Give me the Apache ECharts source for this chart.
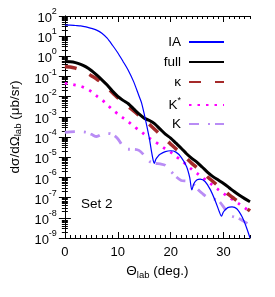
<!DOCTYPE html>
<html><head><meta charset="utf-8">
<script src="https://cdn.jsdelivr.net/npm/echarts@6/dist/echarts.min.js"></script>
<style>html,body{margin:0;padding:0;background:#fff}#c{width:275px;height:297px}</style>
</head><body><div id="c"></div>
<script>
// ---- data ----
const angles = [0,1,2,3,4,5,6,7,8,9,10,11,12,13,14,15,16,17,18,19,20,21,22,23,24,25,26,27,28,29,30,31,32,33,34,35];
const fullValues = [0.55,0.54,0.49,0.40,0.30,0.20,0.12,0.069,0.038,0.019,0.0105,0.0066,0.0045,0.0025,0.0014,8.7e-4,6.6e-4,4.5e-4,2.5e-4,1.4e-4,8.9e-5,5.0e-5,2.8e-5,1.5e-5,8.9e-6,5.6e-6,3.2e-6,1.8e-6,1.1e-6,7.4e-7,5.0e-7,3.2e-7,2.0e-7,1.3e-7,8.9e-8,6.3e-8];
const kappaValues = [0.31,0.30,0.26,0.21,0.16,0.11,0.076,0.048,0.028,0.016,0.0089,0.0052,0.0032,0.0020,0.0012,7.1e-4,4.2e-4,2.4e-4,1.35e-4,7.9e-5,4.5e-5,2.6e-5,1.6e-5,8.9e-6,5.0e-6,3.0e-6,1.8e-6,1.05e-6,6.3e-7,3.8e-7,2.4e-7,1.4e-7,8.9e-8,5.6e-8,3.5e-8,2.2e-8];
const kStarValues = [0.046,0.043,0.038,0.033,0.026,0.018,0.011,0.0071,0.0040,0.0023,0.0014,8.9e-4,5.8e-4,3.5e-4,2.2e-4,1.4e-4,8.9e-5,6.0e-5,4.0e-5,2.6e-5,1.8e-5,1.1e-5,7.1e-6,4.2e-6,2.5e-6,1.6e-6,1.0e-6,6.3e-7,4.0e-7,2.5e-7,1.6e-7,1.05e-7,7.1e-8,4.8e-8,3.2e-8,2.0e-8];
const kValues = [1.74e-4,1.82e-4,1.86e-4,1.86e-4,1.74e-4,1.38e-4,1.07e-4,1.38e-4,1.55e-4,1.35e-4,8.3e-5,3.5e-5,2.5e-5,2.5e-5,2.2e-5,1.26e-5,6.3e-6,5.0e-6,4.7e-6,4.0e-6,2.1e-6,1.1e-6,7.1e-7,6.6e-7,5.6e-7,2.8e-7,1.6e-7,1.0e-7,8.7e-8,7.1e-8,3.5e-8,1.4e-8,1.1e-8,8.9e-9,6.3e-9,4.5e-9];
const iaAngles = [0,1,2,3,4,5,6,7,8,9,10,11,12,13,14,14.5,15,15.5,16,16.4,16.7,16.9,17.2,17.6,18,19,20,21,22,23,23.6,24,24.4,25,25.6,26.5,27.5,28.5,29.2,29.6,30,30.8,31.6,32.5,33.5,34.3,35];
const iaValues = [35.5,35.5,33.9,32.4,28.8,24.5,20.0,14.1,7.94,3.55,1.51,0.56,0.20,0.056,0.0112,0.0050,0.0014,3.5e-4,7.9e-5,1.8e-5,7.1e-6,5.0e-6,7.9e-6,1.12e-5,1.4e-5,1.9e-5,2.1e-5,1.8e-5,1.0e-5,3.5e-6,1.0e-6,2.4e-7,5.0e-7,7.6e-7,8.3e-7,6.3e-7,2.5e-7,6.3e-8,2.0e-8,1.2e-8,2.0e-8,3.2e-8,3.5e-8,2.8e-8,1.12e-8,3.5e-9,1.0e-9];
const seriesNames = ['IA','full','κ','K*','K'];
const xTickValues = [0,10,20,30];
const xMinorTickValues = angles;
const yTickValues = [1e-9,1e-8,1e-7,1e-6,1e-5,1e-4,1e-3,1e-2,1e-1,1e0,1e1,1e2];

// ---- helpers ----
const FONT = 'Liberation Sans';
const yMinorTickValues = [];
for (let d = -9; d < 2; d++) for (let m = 2; m <= 9; m++) yMinorTickValues.push(+(m * Math.pow(10, d)).toPrecision(3));
const pairs = (xs, ys) => xs.map((x, i) => [x, ys[i]]);

const chart = echarts.init(document.getElementById('c'), null, {renderer: 'canvas'});

const axisLineStyle = {show: true, lineStyle: {color: '#000', width: 1}};
function xAxisDef(pos, major, withLabel) {
  return {
    type: 'value', gridIndex: 0, position: pos, min: 0, max: 35,
    axisLine: major ? axisLineStyle : {show: false},
    axisTick: {show: true, inside: true, length: major ? 6 : 3, lineStyle: {color: '#000', width: 1},
               customValues: major ? xTickValues : xMinorTickValues},
    axisLabel: withLabel ? {show: true, customValues: xTickValues, margin: 8, color: '#000', fontSize: 13, fontFamily: FONT}
                         : {show: false},
    splitLine: {show: false}
  };
}
function yAxisDef(pos, major, withLabel) {
  return {
    type: 'log', logBase: 10, gridIndex: 0, position: pos, min: 1e-9, max: 1e2,
    axisLine: major ? axisLineStyle : {show: false},
    axisTick: {show: true, inside: true, length: major ? 6 : 3, lineStyle: {color: '#000', width: 1},
               customValues: major ? yTickValues : yMinorTickValues},
    axisLabel: withLabel ? {
      show: true, customValues: yTickValues, margin: 8, color: '#000', fontFamily: FONT,
      formatter: v => '{a|10}{s|' + Math.round(Math.log10(v)) + '}',
      rich: {a: {fontSize: 13, fontFamily: FONT, color: '#000', padding: [5, 0, 0, 0]},
             s: {fontSize: 9, fontFamily: FONT, color: '#000', padding: [0, 0, 9, 0]}}
    } : {show: false},
    splitLine: {show: false}
  };
}

const xAxes = [xAxisDef('bottom', true, true), xAxisDef('top', true, false), xAxisDef('bottom', false, false), xAxisDef('top', false, false)];
xAxes[0].name = 'Θ{sub|lab}{n| (deg.)}';
xAxes[0].nameLocation = 'middle';
xAxes[0].nameGap = 25;
xAxes[0].nameTextStyle = {fontSize: 13.5, fontFamily: FONT, color: '#000',
  rich: {sub: {fontSize: 9.5, fontFamily: FONT, color: '#000', padding: [7, 0, 0, 0]},
         n: {fontSize: 13.5, fontFamily: FONT, color: '#000'}}};

const yAxes = [yAxisDef('left', true, true), yAxisDef('right', true, false), yAxisDef('left', false, false), yAxisDef('right', false, false)];
yAxes[0].name = 'dσ/dΩ{sub|lab}{n| (μb/sr)}';
yAxes[0].nameLocation = 'middle';
yAxes[0].nameGap = 38;
yAxes[0].nameTextStyle = {fontSize: 13.5, fontFamily: FONT, color: '#000',
  rich: {sub: {fontSize: 9.5, fontFamily: FONT, color: '#000', padding: [7, 0, 0, 0]},
         n: {fontSize: 13.5, fontFamily: FONT, color: '#000'}}};

const legendTops = [35, 55, 75, 96, 117];
const legends = seriesNames.map((n, i) => ({
  data: [n], orient: 'vertical', right: 50, top: legendTops[i], align: 'right',
  itemWidth: 35, itemHeight: 14, padding: 0, itemGap: 0, selectedMode: false,
  itemStyle: {opacity: 0, borderWidth: 0},
  formatter: name => name === 'K*' ? '{k|K}{s|*}' : name,
  textStyle: {fontSize: 13.5, fontFamily: FONT, color: '#000', padding: [0, 3, 0, 0],
    rich: {k: {fontSize: 13.5, fontFamily: FONT, color: '#000'},
           s: {fontSize: 9, fontFamily: FONT, color: '#000', padding: [0, 0, 9, 0]}}}
}));

chart.setOption({
  animation: false,
  backgroundColor: '#fff',
  grid: {left: 60, right: 25, top: 16, bottom: 59, containLabel: false},
  xAxis: xAxes,
  yAxis: yAxes,
  legend: legends,
  graphic: [{type: 'text', left: 81, top: 197, style: {text: 'Set 2', font: '13.5px "Liberation Sans"', fill: '#000'}}],
  series: [
    {name: 'IA', type: 'line', data: pairs(iaAngles, iaValues), showSymbol: false, symbol: 'none', smooth: 0.25, z: 6,
     lineStyle: {color: '#0000ff', width: 1.2}, itemStyle: {color: '#0000ff'}},
    {name: 'full', type: 'line', data: pairs(angles, fullValues), showSymbol: false, symbol: 'none', smooth: 0.3, z: 5,
     lineStyle: {color: '#000000', width: 3}, itemStyle: {color: '#000000'}},
    {name: 'κ', type: 'line', data: pairs(angles, kappaValues), showSymbol: false, symbol: 'none', smooth: 0.3, z: 4,
     lineStyle: {color: '#a52a2a', width: 3.5, type: [12, 14]}, itemStyle: {color: '#a52a2a'}},
    {name: 'K*', type: 'line', data: pairs(angles, kStarValues), showSymbol: false, symbol: 'none', smooth: 0.3, z: 3,
     lineStyle: {color: '#ff00ff', width: 2.8, type: [2.5, 6]}, itemStyle: {color: '#ff00ff'}},
    {name: 'K', type: 'line', data: pairs(angles, kValues), showSymbol: false, symbol: 'none', smooth: 0.3, z: 2,
     lineStyle: {color: '#b98cf5', width: 2.8, type: [10, 9, 2, 5]}, itemStyle: {color: '#b98cf5'}}
  ]
});
</script></body></html>
